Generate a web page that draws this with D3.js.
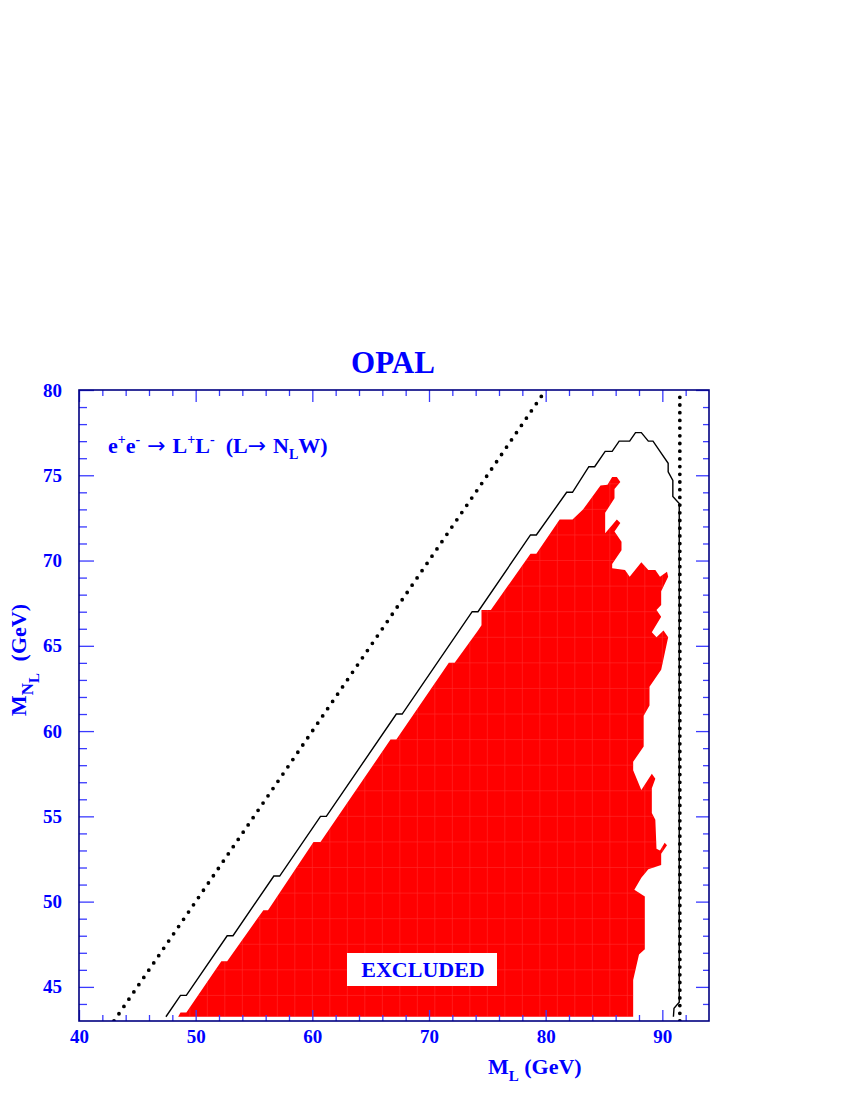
<!DOCTYPE html>
<html>
<head>
<meta charset="utf-8">
<script src="https://cdn.jsdelivr.net/npm/d3@7/dist/d3.min.js"></script>
<style>
  html, body { margin: 0; padding: 0; background: #fff; }
  svg { display: block; }
  text { font-family: "Liberation Serif", "Times New Roman", serif; font-weight: bold; }
</style>
</head>
<body>
<svg id="chart" width="850" height="1100"></svg>
<script>
// ---------------- DATA ----------------
const xDomain = [40, 94];
const yDomain = [43, 80];
const xMajorTicks = [40, 50, 60, 70, 80, 90];
const xMinorTicks = [42, 44, 46, 48, 52, 54, 56, 58, 62, 64, 66, 68, 72, 74, 76, 78, 82, 84, 86, 88, 92];
const yMajorTicks = [45, 50, 55, 60, 65, 70, 75, 80];
const yMinorTicks = [44, 46, 47, 48, 49, 51, 52, 53, 54, 56, 57, 58, 59, 61, 62, 63, 64, 66, 67, 68, 69, 71, 72, 73, 74, 76, 77, 78, 79];

// Excluded region (M_L, M_NL) boundary in GeV
const exclML = [48.5, 48.7, 49.2, 52.2, 52.7, 55.8, 56.2, 60.1, 60.7, 66.7, 67.2, 71.7, 72.2, 74.2, 74.5, 74.5, 75.3,
  78.7, 79.2, 81.2, 82.3, 83.2, 84.7, 85.3, 85.7, 86.1, 86.4, 85.9, 85.9, 85.1, 85.1, 86.1, 86.4, 85.9, 86.5, 86.5,
  85.7, 85.7, 86.8, 87.2, 88.2, 88.8, 89.4, 89.8, 90.4, 90.5, 89.9, 89.9, 89.5, 89.9, 89.1, 89.5, 90.1, 90.5, 89.9,
  88.9, 88.9, 88.4, 88.4, 87.5, 87.5, 88.2, 89.1, 89.4, 89.1, 89.1, 89.4, 89.5, 89.8, 90.2, 90.4, 89.9, 89.9, 88.8,
  88.2, 87.6, 88.5, 88.5, 88.0, 87.5, 87.5];
const exclMN = [43.25, 43.5, 43.5, 46.5, 46.5, 49.5, 49.5, 53.5, 53.5, 59.5, 59.5, 64.0, 64.0, 65.9, 66.2, 67.1, 67.1,
  70.4, 70.4, 72.4, 72.4, 73.0, 74.4, 74.45, 74.9, 74.9, 74.6, 74.2, 73.65, 72.8, 71.6, 72.4, 72.2, 71.7, 71.1, 70.6,
  69.8, 69.55, 69.45, 69.05, 69.9, 69.45, 69.45, 69.05, 69.35, 69.05, 68.2, 67.4, 67.1, 66.7, 65.8, 65.5, 65.9, 65.5, 63.6,
  62.6, 61.5, 60.9, 59.1, 58.2, 57.7, 56.55, 57.5, 57.2, 56.65, 55.2, 54.8, 53.1, 53.0, 53.45, 53.3, 52.8, 52.15, 51.9,
  51.4, 50.7, 50.3, 47.2, 46.9, 45.4, 43.25];

// Solid contour (expected limit) in GeV
const contourML = [47.45, 48.7, 49.2, 52.7, 53.2, 56.7, 57.2, 60.7, 61.2, 67.2, 67.7, 73.7, 74.2, 78.7, 79.2, 81.8, 82.3,
  83.7, 84.2, 85.1, 85.7, 86.3, 87.2, 87.7, 88.2, 88.8, 89.2, 89.8, 90.5, 90.5, 90.9, 90.9, 91.45, 91.45, 91.0, 90.95];
const contourMN = [43.25, 44.5, 44.5, 48.0, 48.0, 51.5, 51.5, 55.0, 55.0, 61.0, 61.0, 67.0, 67.0, 71.5, 71.5, 74.0, 74.0,
  75.5, 75.5, 76.4, 76.4, 77.0, 77.0, 77.5, 77.5, 77.0, 77.0, 76.4, 75.7, 75.2, 74.7, 73.75, 73.35, 44.1, 43.75, 43.25];

// Dotted lines: M_NL = M_L and kinematic limit M_L = sqrt(s)/2
const diagML = [43, 80];
const diagMN = [43, 80];
const kinLimitML = 91.5;

// ---------------- DRAW ----------------
const svg = d3.select("#chart");
const pL = 79, pR = 709, pT = 390, pB = 1021;
const x = d3.scaleLinear().domain(xDomain).range([pL, pR]);
const y = d3.scaleLinear().domain(yDomain).range([pB, pT]);

const blue = "#0000ff";
const tickBlue = "#3a3aff";
const frameBlue = "#000080";

const defs = svg.append("defs");
defs.append("clipPath").attr("id", "plotclip")
  .append("rect").attr("x", pL).attr("y", pT).attr("width", pR - pL).attr("height", pB - pT);
const exclPts = exclML.map((d, i) => [d, exclMN[i]]);
const exclPath = d3.line().x(d => x(d[0])).y(d => y(d[1]))(exclPts) + "Z";
defs.append("clipPath").attr("id", "exclclip").append("path").attr("d", exclPath);

const plot = svg.append("g").attr("clip-path", "url(#plotclip)");

// excluded region
plot.append("path").attr("d", exclPath).attr("fill", "#ff0000").attr("stroke", "none");

// faint cell grid inside the red region
const gridG = plot.append("g").attr("clip-path", "url(#exclclip)")
  .attr("stroke", "#ff5a5a").attr("stroke-width", 0.6).attr("opacity", 0.5);
gridG.selectAll("line.v").data(d3.range(48, 92, 1.5)).join("line").attr("class", "v")
  .attr("x1", d => x(d)).attr("x2", d => x(d)).attr("y1", pT).attr("y2", pB);
gridG.selectAll("line.h").data(d3.range(43, 80, 1.5)).join("line").attr("class", "h")
  .attr("y1", d => y(d)).attr("y2", d => y(d)).attr("x1", pL).attr("x2", pR);

// dotted diagonal
plot.append("line")
  .attr("x1", x(diagML[0])).attr("y1", y(diagMN[0]))
  .attr("x2", x(diagML[1])).attr("y2", y(diagMN[1]))
  .attr("stroke", "#000").attr("stroke-width", 3.8)
  .attr("stroke-linecap", "round").attr("stroke-dasharray", "0 8.8");

// dotted kinematic limit
plot.append("line")
  .attr("x1", x(kinLimitML)).attr("y1", y(yDomain[0]))
  .attr("x2", x(kinLimitML)).attr("y2", y(yDomain[1]))
  .attr("stroke", "#000").attr("stroke-width", 3.8)
  .attr("stroke-linecap", "round").attr("stroke-dasharray", "0 7.7");

// solid contour
plot.append("path")
  .attr("d", d3.line().x(d => x(d)).y((d, i) => y(contourMN[i]))(contourML))
  .attr("fill", "none").attr("stroke", "#000").attr("stroke-width", 1.4);

// EXCLUDED label
const exG = svg.append("g");
exG.append("rect").attr("x", 347).attr("y", 953).attr("width", 150).attr("height", 33).attr("fill", "#fff");
exG.append("text").attr("x", 423).attr("y", 977).attr("text-anchor", "middle")
  .attr("font-size", 22).attr("fill", blue).text("EXCLUDED");

// axes (ticks inward)
function styleAxis(g) {
  g.select(".domain").remove();
  g.selectAll(".tick line").attr("stroke", tickBlue).attr("stroke-width", 1.3);
  g.selectAll(".tick text").attr("fill", blue).attr("font-size", 19)
    .attr("font-family", "'Liberation Serif', serif").attr("font-weight", "bold");
}
svg.append("g").attr("transform", `translate(0,${pB})`)
  .call(d3.axisBottom(x).tickValues(xMajorTicks).tickSize(-11).tickPadding(9).tickFormat(d3.format("d")))
  .call(styleAxis);
svg.append("g").attr("transform", `translate(0,${pB})`)
  .call(d3.axisBottom(x).tickValues(xMinorTicks).tickSize(-6).tickFormat(""))
  .call(styleAxis);
svg.append("g").attr("transform", `translate(0,${pT})`)
  .call(d3.axisTop(x).tickValues(xMajorTicks).tickSize(-12).tickFormat(""))
  .call(styleAxis);
svg.append("g").attr("transform", `translate(0,${pT})`)
  .call(d3.axisTop(x).tickValues(xMinorTicks).tickSize(-6).tickFormat(""))
  .call(styleAxis);
svg.append("g").attr("transform", `translate(${pL},0)`)
  .call(d3.axisLeft(y).tickValues(yMajorTicks).tickSize(-15).tickPadding(17).tickFormat(d3.format("d")))
  .call(styleAxis);
svg.append("g").attr("transform", `translate(${pL},0)`)
  .call(d3.axisLeft(y).tickValues(yMinorTicks).tickSize(-8).tickFormat(""))
  .call(styleAxis);
svg.append("g").attr("transform", `translate(${pR},0)`)
  .call(d3.axisRight(y).tickValues(yMajorTicks).tickSize(-13).tickFormat(""))
  .call(styleAxis);
svg.append("g").attr("transform", `translate(${pR},0)`)
  .call(d3.axisRight(y).tickValues(yMinorTicks).tickSize(-6).tickFormat(""))
  .call(styleAxis);

// frame
svg.append("rect").attr("x", pL).attr("y", pT).attr("width", pR - pL).attr("height", pB - pT)
  .attr("fill", "none").attr("stroke", frameBlue).attr("stroke-width", 1.6);

// title
svg.append("text").attr("x", 393).attr("y", 373).attr("text-anchor", "middle")
  .attr("font-size", 31).attr("fill", blue).text("OPAL");

// process label
const arrowFont = "'DejaVu Sans', sans-serif";
const proc = svg.append("text").attr("x", 108).attr("y", 453).attr("font-size", 22).attr("fill", blue)
  .attr("xml:space", "preserve");
proc.append("tspan").text("e");
proc.append("tspan").attr("dy", -9).attr("font-size", 14).text("+");
proc.append("tspan").attr("dy", 9).text("e");
proc.append("tspan").attr("dy", -9).attr("font-size", 14).text("-");
proc.append("tspan").attr("dy", 9).attr("font-family", arrowFont).attr("font-weight", "normal").text(" \u2192 ");
proc.append("tspan").text("L");
proc.append("tspan").attr("dy", -9).attr("font-size", 14).text("+");
proc.append("tspan").attr("dy", 9).text("L");
proc.append("tspan").attr("dy", -9).attr("font-size", 14).text("-");
proc.append("tspan").attr("dy", 9).text("  (L");
proc.append("tspan").attr("font-family", arrowFont).attr("font-weight", "normal").text("\u2192 ");
proc.append("tspan").text("N");
proc.append("tspan").attr("dy", 6).attr("font-size", 14).text("L");
proc.append("tspan").attr("dy", -6).text("W)");

// x axis title
const xt = svg.append("text").attr("x", 488).attr("y", 1074).attr("font-size", 22).attr("fill", blue)
  .attr("xml:space", "preserve");
xt.append("tspan").text("M");
xt.append("tspan").attr("dy", 7).attr("font-size", 15).text("L");
xt.append("tspan").attr("dy", -7).text(" (GeV)");

// y axis title
const yt = svg.append("text").attr("transform", "translate(26,716) rotate(-90)")
  .attr("font-size", 22).attr("fill", blue).attr("xml:space", "preserve");
yt.append("tspan").text("M");
yt.append("tspan").attr("dy", 7).attr("font-size", 17).text("N");
yt.append("tspan").attr("dy", 6).attr("font-size", 15).text("L");
yt.append("tspan").attr("dy", -13).attr("dx", 6).text(" (GeV)");
</script>
</body>
</html>
